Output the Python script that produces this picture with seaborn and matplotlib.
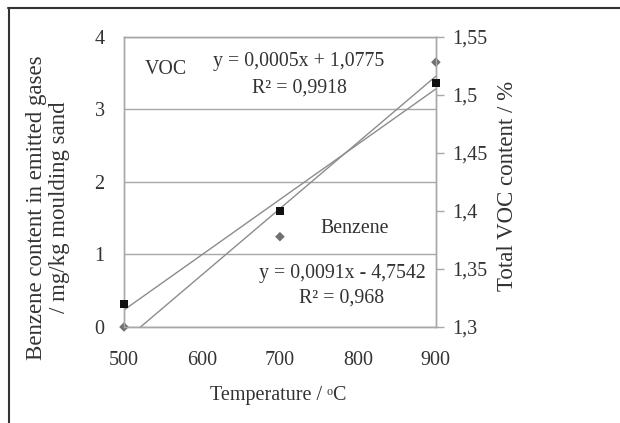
import numpy as np
import pandas as pd
import seaborn as sns
import matplotlib.pyplot as plt
from matplotlib.lines import Line2D

# ---------------- data ----------------
temperature = [500, 700, 900]
benzene = [0.0, 1.245, 3.65]          # left axis, mg/kg
voc = [1.3196, 1.40, 1.51]            # right axis, %

x_ticks = [500, 600, 700, 800, 900]
left_ticks = [0, 1, 2, 3, 4]
right_ticks = [1.3, 1.35, 1.4, 1.45, 1.5, 1.55]
right_labels = ["1,3", "1,35", "1,4", "1,45", "1,5", "1,55"]

df = pd.DataFrame({"T": temperature, "Benzene": benzene, "VOC": voc})

# ---------------- style ----------------
sns.set_style("white")
plt.rcParams["font.family"] = ["Liberation Serif", "DejaVu Serif"]
txt = "#333333"
grey = "#8c8c8c"

fig = plt.figure(figsize=(6.2, 4.23), dpi=100)
ax = fig.add_axes([0.2, 0.227, 0.503, 0.686])
ax2 = ax.twinx()

# benzene: diamonds + trend line
sns.regplot(data=df, x="T", y="Benzene", ax=ax, ci=None, scatter=False,
            line_kws=dict(color=grey, lw=1))
sns.scatterplot(data=df, x="T", y="Benzene", ax=ax, marker="D", s=24,
                color="#707070", edgecolor="none", zorder=5, clip_on=False)

# VOC: squares + trend line
sns.regplot(data=df, x="T", y="VOC", ax=ax2, ci=None, scatter=False,
            line_kws=dict(color=grey, lw=1))
sns.scatterplot(data=df, x="T", y="VOC", ax=ax2, marker="s", s=30,
                color="#111111", edgecolor="none", zorder=5, clip_on=False)

ax.set_xlim(500, 900)
ax.set_ylim(0, 4)
ax2.set_ylim(1.3, 1.55)
ax.set_xticks(x_ticks)
ax.set_yticks(left_ticks)
ax2.set_yticks(right_ticks)
ax2.set_yticklabels(right_labels)

ax.yaxis.grid(True, color="#a8a8a8", lw=1)
for a in (ax, ax2):
    for s in a.spines.values():
        s.set_color("#a8a8a8")
        s.set_linewidth(1)

ax.tick_params(axis="both", labelsize=14.5, colors=txt, length=0)
ax.tick_params(axis="y", pad=14)
ax.tick_params(axis="x", pad=17)
ax2.tick_params(axis="y", labelsize=14.5, colors=txt, length=6, width=1,
                direction="out", pad=6)
ax2.tick_params(axis="y", color="#a8a8a8")
ax.set_xlabel("")
ax.set_ylabel("")
ax2.set_ylabel("")

fig.text(0.448, 0.066, "Temperature / \u1d52C", ha="center", va="center",
         fontsize=14.5, color=txt)
fig.text(0.077, 0.51, "Benzene content in emitted gases\n/ mg/kg moulding sand",
         rotation=90, ha="center", va="center", fontsize=16.5, color=txt,
         linespacing=1.15)
fig.text(0.818, 0.56, "Total VOC content / %", rotation=90, ha="center",
         va="center", fontsize=16.5, color=txt)

# annotations
tk = dict(transform=ax.transAxes, fontsize=14.3, color=txt, va="center")
ax.text(0.067, 0.886, "VOC", ha="left", **tk)
ax.text(0.561, 0.914, "y = 0,0005x + 1,0775", ha="center", **tk)
ax.text(0.561, 0.824, "R\u00b2 = 0,9918", ha="center", **tk)
ax.text(0.741, 0.338, "Benzene", ha="center", **tk)
ax.text(0.699, 0.186, "y = 0,0091x - 4,7542", ha="center", **tk)
ax.text(0.699, 0.10, "R\u00b2 = 0,968", ha="center", **tk)

# outer frame (top and left only)
fig.add_artist(Line2D([8 / 620, 1], [1 - 8 / 423, 1 - 8 / 423],
                      color="#333333", lw=1.5, transform=fig.transFigure))
fig.add_artist(Line2D([9 / 620, 9 / 620], [0, 1 - 8 / 423],
                      color="#333333", lw=1.5, transform=fig.transFigure))

fig.savefig("out.png", dpi=100)
